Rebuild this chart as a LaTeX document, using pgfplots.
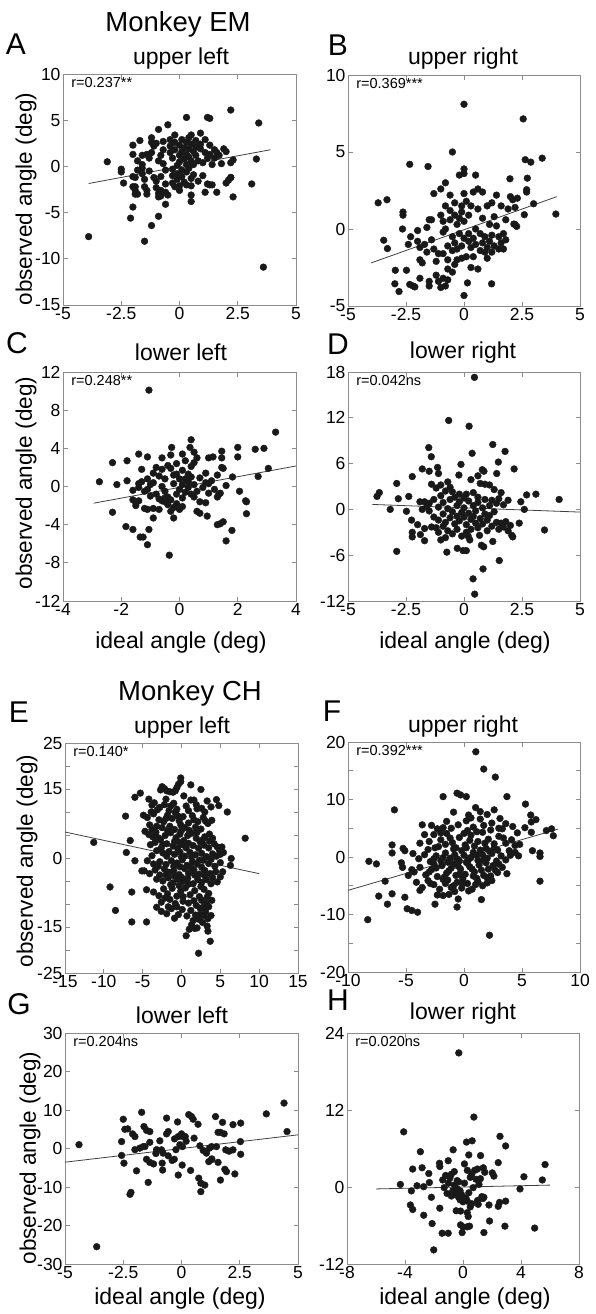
\documentclass[border=0pt]{standalone}
\usepackage{fontspec}
\setmainfont{Liberation Sans}
\usepackage{pgfplots}
\pgfplotsset{compat=1.18}
\pgfplotsset{
 panel/.style={scale only axis, anchor=north west, width=233pt, height=231pt,
  axis line style={draw=black!45, line width=0.8pt},
  tick style={draw=black!45, line width=0.8pt},
  major tick length=4.5pt, tick align=inside, tick pos=both,
  ticklabel style={font=\fontsize{17.5}{17.5}\selectfont, text=black},
  xticklabel style={yshift=1pt},
  yticklabel style={xshift=1pt}},
 dots/.style={only marks, mark=*, mark size=3.4pt, mark options={fill=black!90, draw=black!90}},
 fitl/.style={no marks, black!75, line width=0.8pt},
}
\newcommand\rlab[1]{\node[anchor=north west, inner sep=0pt, font=\fontsize{14.5}{14.5}\selectfont] at (rel axis cs:0.035,0.985) {#1};}
\begin{document}
\begin{tikzpicture}[x=1pt,y=1pt]
\useasboundingbox (0,0) rectangle (595,-1314);
% ---------- A ----------
\begin{axis}[panel, at={(63pt,-74pt)}, xmin=-5, xmax=5, ymin=-15, ymax=10,
 xtick={-5,-2.5,0,2.5,5}, xticklabels={-5,-2.5,0,2.5,5},
 ytick={-15,-10,-5,0,5,10}, yticklabels={-15,-10,-5,0,5,10}]
\addplot[dots] coordinates {
(-3.9,-7.6) (-3.1,0.5) (-2.5,-0.3) (-2.5,-0.6) (-2.4,-1.8)
(-2.0,2.3) (-2.0,1.3) (-2.0,-1.1) (-1.9,-2.2) (-1.9,-2.6) (-1.9,-3.0) (-2.0,-4.4) (-2.1,-5.6)
(-1.5,-8.1) (-1.2,-6.4) (-0.9,-5.4) (-0.8,-3.2) (-0.9,-2.9)
(-1.7,2.8) (-1.6,1.2) (-1.4,1.3) (-1.2,3.1) (-1.0,2.5) (-0.9,4.0) (-0.5,4.5) (-0.2,3.4) (0.3,5.3) (1.2,5.3) (1.3,5.2) (0.9,3.6)
(2.2,6.1) (3.4,4.7) (3.3,0.8) (3.1,-1.9) (2.3,-3.3) (2.2,-1.2) (2.1,-1.5) (2.0,-1.8) (1.6,-2.8) (1.3,-2.0) (1.1,-2.8)
(0.5,-3.8) (0.5,-3.1) (-0.6,-4.1) (2.2,0.4) (2.3,0.7) (1.9,1.9) (2.0,1.6) (1.7,1.2) (3.6,-10.9)
(-1.8,0.6) (-1.8,-0.4) (-1.9,-1.2) (-2.0,-2.2) (-1.8,-3.0) (-1.6,0.2) (-1.6,-0.2) (-1.6,-0.8) (-1.5,-1.4) (-1.5,-2.2)
(-1.4,-2.6) (-1.4,-3.0) (-1.3,-0.5) (-1.3,0.9) (-1.2,1.5) (-1.2,2.6) (-1.1,2.2) (-1.1,-1.2) (-1.0,-1.6) (-1.0,-2.3)
(-0.9,-3.3) (-0.8,-2.6) (-0.8,-1.1) (-0.9,0.6) (-0.8,1.2) (-0.7,2.7) (-0.7,1.8) (-0.7,0.3) (-0.6,-0.4) (-0.6,-1.9)
(-0.6,-2.8) (-0.5,-3.1) (-0.4,2.9) (-0.4,2.2) (-0.4,1.5) (-0.3,0.9) (-0.3,-0.3) (-0.3,-1.0) (-0.3,-1.8) (-0.2,-2.2)
(-0.2,2.6) (-0.2,1.8) (-0.1,0.1) (-0.1,-0.8) (-0.1,-1.4) (0.0,-2.1) (0.0,-2.6) (0.0,2.3) (0.0,1.2) (0.0,0.5)
(0.1,2.9) (0.1,1.6) (0.1,-0.4) (0.1,-1.1) (0.2,-1.7) (0.2,0.8) (0.2,2.0) (0.3,2.6) (0.3,1.3) (0.3,0.2)
(0.3,-0.6) (0.3,-2.0) (0.4,3.1) (0.4,1.9) (0.4,1.0) (0.4,-0.2) (0.5,-1.3) (0.5,-2.1) (0.5,0.6) (0.5,2.4) (0.5,3.4)
(0.6,1.6) (0.6,0.2) (0.6,-0.9) (0.7,2.8) (0.7,2.1) (0.7,1.2) (0.8,-1.6) (0.8,0.6) (0.9,1.9) (0.9,2.4)
(1.0,-1.0) (1.0,0.4) (1.1,1.5) (1.1,2.9) (1.2,-1.9) (1.2,0.9) (1.3,2.3) (1.3,1.3) (1.4,0.2) (1.4,-2.0)
(1.5,1.8) (1.5,0.9) (1.6,1.5) (1.8,0.3) (2.2,-1.2)
};
\addplot[fitl] coordinates {(-3.9,-1.85) (3.9,1.8)};
\rlab{r=0.237**}
\end{axis}
% ---------- B ----------
\begin{axis}[panel, at={(348pt,-75pt)}, width=232pt, xmin=-5, xmax=5, ymin=-5, ymax=10,
 xtick={-5,-2.5,0,2.5,5}, xticklabels={-5,-2.5,0,2.5,5},
 ytick={-5,0,5,10}, yticklabels={-5,0,5,10}]
\addplot[dots] coordinates {
(0.0,8.1) (2.55,7.15) (-0.5,5.0) (-2.34,4.2) (-1.55,4.06) (2.64,4.5) (2.88,4.34) (3.37,4.6)
(-3.7,1.7) (-3.32,1.9) (3.96,0.97) (-3.46,-0.73) (-3.3,-1.27) (-2.63,1.1) (-2.63,0.9) (-2.65,0.0)
(-2.96,-2.68) (-2.48,-2.68) (-2.98,-3.56) (-2.8,-4.06) (-2.34,-3.6) (-2.12,-3.76) (0.0,-4.32) (0.15,-3.5) (1.19,-3.56)
(3.0,1.64) (1.98,3.26) (2.73,3.3) (2.7,2.55) (2.7,2.4) (2.6,0.93) (2.15,0.32) (2.27,0.17)
(-2.0,-0.1) (-2.0,-0.8) (-1.9,-1.2) (-1.9,-2.0) (-1.8,-2.2) (-1.9,-3.2) (-1.7,-1.0) (-1.6,-1.5) (-1.5,0.6) (-1.4,0.6)
(-1.4,-0.7) (-1.3,-1.3) (-1.3,2.3) (-1.2,-2.1) (-1.2,-3.0) (-1.1,-3.4) (-1.0,-3.8) (-1.1,-1.6) (-1.0,0.9) (-1.0,2.6)
(-0.9,-0.2) (-0.9,-1.6) (-0.9,-3.2) (-0.8,3.0) (-0.8,1.5) (-0.8,0.0) (-0.7,-1.1) (-0.7,-2.0) (-0.7,-2.6) (-0.7,-3.3)
(-0.6,1.2) (-0.6,2.2) (-0.6,0.6) (-0.5,-0.5) (-0.5,-1.4) (-0.5,-2.8) (-0.4,0.9) (-0.4,1.7) (-0.4,-0.9) (-0.3,0.3)
(-0.3,-1.3) (-0.3,-2.0) (-0.2,0.7) (-0.2,-0.3) (-0.2,3.5) (-0.1,1.5) (-0.1,-1.1) (-0.1,-1.9) (0.0,3.9) (0.0,3.6)
(0.0,2.3) (0.0,0.5) (0.0,-0.6) (0.1,1.8) (0.1,-1.8) (0.2,0.9) (0.2,-0.3) (0.2,-0.8) (0.3,1.5) (0.3,-1.2)
(0.4,2.4) (0.4,-0.6) (0.4,-1.8) (0.5,3.5) (0.5,0.0) (0.5,-1.0) (0.6,2.6) (0.6,1.3) (0.6,-2.6) (0.7,-0.3)
(0.7,-1.4) (0.8,0.7) (0.8,-0.9) (0.9,-0.5) (0.9,-1.5) (1.0,1.5) (1.0,-1.2) (1.0,-1.9) (1.1,0.3) (1.1,-0.8)
(1.2,1.7) (1.2,-0.4) (1.2,-1.5) (1.3,0.8) (1.3,-1.1) (1.4,2.2) (1.4,0.2) (1.5,-0.5) (1.5,-1.3) (1.6,1.5)
(1.6,-0.9) (1.7,-0.3) (1.7,-1.3) (1.8,0.6) (1.9,1.3) (2.0,2.1) (2.1,1.9) (2.2,1.4) (2.3,2.0) (2.2,0.3)
(-2.4,-1.0) (-2.3,-0.5) (-2.2,-3.7) (-1.5,-3.4) (-1.5,-3.7) (-0.8,-3.7) (-0.4,-2.3) (0.3,-2.5) (-0.1,1.1) (-1.6,0.1)
(-0.9,0.5) (1.8,-0.7) (0.8,2.4)
};
\addplot[fitl] coordinates {(-4,-2.2) (4,2.1)};
\rlab{r=0.369***}
\end{axis}
% ---------- C ----------
\begin{axis}[panel, at={(63pt,-372pt)}, height=229pt, xmin=-4, xmax=4, ymin=-12, ymax=12,
 xtick={-4,-2,0,2,4}, xticklabels={-4,-2,0,2,4},
 ytick={-12,-8,-4,0,4,8,12}, yticklabels={-12,-8,-4,0,4,8,12}]
\addplot[dots] coordinates {
(-1.05,10.1) (3.3,5.7) (-2.75,0.5) (-0.35,-7.2) (1.6,-5.7) (-2.3,2.5) (-2.15,0.2) (-2.3,-2.7) (-1.8,2.7) (-1.8,0.6)
(-1.84,-4.2) (-1.6,-4.5) (-1.4,3.4) (-1.1,3.1) (-1.35,-5.3) (-1.25,-5.3) (-1.1,-6.1) (-1.05,-4.5) (-0.9,-3.3) (-0.6,3.0)
(-0.27,4.1) (0.1,3.4) (0.4,4.9) (0.36,4.1) (0.5,2.5) (1.0,3.0) (1.15,3.1) (1.45,3.7) (1.45,3.0) (2.0,4.1)
(2.0,3.1) (2.6,3.9) (2.9,4.0) (3.05,1.9) (2.7,1.05) (2.06,-0.5) (2.27,-1.5) (2.3,-1.6) (2.3,-2.85) (1.8,-4.6)
(1.4,-3.9) (1.5,-3.7) (0.95,-3.1) (0.7,-2.8) (1.35,-0.8) (1.3,-1.1) (1.45,2.0) (1.5,1.9) (1.82,1.0)
(-1.6,-0.4) (-1.6,-1.4) (-1.5,-2.0) (-1.5,-1.7) (-1.4,0.3) (-1.4,-0.1) (-1.3,1.8) (-1.3,0.5) (-1.2,-0.5) (-1.2,-2.3)
(-1.1,0.8) (-1.1,-2.4) (-1.0,0.2) (-1.0,-1.0) (-0.9,-2.3) (-0.9,0.4) (-0.8,2.0) (-0.8,-0.8) (-0.7,1.1) (-0.7,-1.3)
(-0.7,-2.4) (-0.6,1.8) (-0.6,0.0) (-0.6,-1.5) (-0.5,-0.5) (-0.5,-1.2) (-0.5,-1.6) (-0.4,-1.1) (-0.4,-1.9) (-0.4,2.2)
(-0.3,-1.4) (-0.3,-2.6) (-0.3,1.9) (-0.3,3.3) (-0.2,0.3) (-0.2,-3.3) (-0.2,-2.2) (-0.1,2.4) (-0.1,1.3) (-0.1,-0.8)
(-0.1,-1.8) (0.0,0.8) (0.0,-0.3) (0.0,-2.4) (0.1,1.7) (0.1,0.2) (0.1,-1.2) (0.1,-2.1) (0.2,0.8) (0.2,-0.6)
(0.2,2.7) (0.3,0.5) (0.3,-0.1) (0.3,1.3) (0.4,1.0) (0.4,-0.8) (0.4,2.1) (0.5,0.2) (0.5,-1.1) (0.5,3.6)
(0.6,3.0) (0.6,-0.5) (0.6,-2.6) (0.7,0.9) (0.8,-0.1) (0.9,1.4) (0.9,0.4) (0.9,-1.7) (1.0,0.3) (1.0,-0.7)
(1.1,0.6) (1.2,-0.3) (1.3,1.2) (1.4,-0.7) (1.3,-4.0) (-0.2,1.2) (-0.5,0.8) (-0.9,1.4) (-1.1,-0.3) (0.7,-1.6)
(-1.4,-1.5) (1.6,0.1)
};
\addplot[fitl] coordinates {(-2.95,-1.75) (4,2.15)};
\rlab{r=0.248**}
\end{axis}
% ---------- D ----------
\begin{axis}[panel, at={(348pt,-372pt)}, width=232pt, height=229pt, xmin=-5, xmax=5, ymin=-12, ymax=18,
 xtick={-5,-2.5,0,2.5,5}, xticklabels={-5,-2.5,0,2.5,5},
 ytick={-12,-6,0,6,12,18}, yticklabels={-12,-6,0,6,12,18}]
\addplot[dots] coordinates {
(0.45,17.3) (-0.66,11.65) (0.22,10.9) (0.35,7.35) (1.24,8.5) (1.77,7.6) (-1.52,8.1) (-1.41,6.9) (-0.13,5.9) (-0.22,4.5)
(0.6,4.4) (0.79,5.2) (0.86,5.0) (1.48,6.2) (2.16,5.3) (1.41,4.7) (-1.8,5.3) (-1.5,5.0) (-1.14,5.5) (-1.1,4.7)
(-2.23,4.3) (-2.9,3.4) (-3.75,1.7) (-3.65,2.2) (-3.18,0.0) (-2.83,1.4) (-2.48,-0.25) (-2.38,1.7) (-2.26,-1.4) (-2.23,-3.0)
(-2.23,-3.6) (-1.88,-3.3) (-1.7,-4.1) (-2.9,-5.5) (0.39,-9.1) (0.46,-11.1) (0.82,-7.8) (1.52,-6.7) (3.47,-2.7) (4.1,1.3)
(3.1,2.0) (2.7,1.9) (2.45,1.0) (2.6,0.0) (2.38,-1.8) (2.0,-2.1) (2.06,-3.4) (2.1,-3.6) (1.24,-4.2) (0.75,-4.7)
(0.85,-4.9) (0.67,-3.4) (0.25,-4.0) (0.18,-3.5) (-0.29,-5.1) (-0.04,-5.4) (0.1,-5.4) (-0.74,-5.6) (-1.0,-4.0)
(-1.6,0.4) (-1.5,-0.2) (-1.5,0.8) (-1.4,-2.3) (-1.4,3.3) (-1.3,1.3) (-1.3,-1.0) (-1.2,-2.4) (-1.2,2.8) (-1.1,0.3)
(-1.1,-1.4) (-1.1,-3.0) (-1.0,1.8) (-1.0,3.2) (-0.9,-0.6) (-0.9,-2.2) (-0.9,0.9) (-0.8,2.4) (-0.8,-1.7) (-0.8,-3.7)
(-0.7,3.6) (-0.7,0.1) (-0.7,-2.8) (-0.6,1.3) (-0.6,-1.1) (-0.6,2.9) (-0.5,-0.3) (-0.5,-3.2) (-0.4,1.6) (-0.4,-1.9)
(-0.3,0.5) (-0.3,-0.9) (-0.3,-2.6) (-0.2,1.0) (-0.2,2.0) (-0.2,-1.5) (-0.1,-0.4) (-0.1,-3.5) (0.0,1.5) (0.0,-1.0)
(0.0,0.2) (0.1,2.0) (0.1,-2.0) (0.2,-0.5) (0.2,1.1) (0.3,-1.3) (0.3,3.9) (0.3,-2.6) (0.4,0.5) (0.4,-0.9)
(0.4,2.2) (0.5,-1.8) (0.5,-0.2) (0.6,0.9) (0.6,-2.4) (0.7,-1.2) (0.7,3.4) (0.8,0.2) (0.8,-1.9) (0.9,-0.6)
(0.9,1.3) (0.9,3.3) (1.0,-2.8) (1.0,-1.4) (1.1,0.5) (1.1,-0.8) (1.1,3.2) (1.2,1.2) (1.2,-2.2) (1.3,-0.3)
(1.3,2.6) (1.4,-1.7) (1.4,0.8) (1.5,-2.6) (1.5,1.4) (1.6,-1.8) (1.6,2.2) (1.7,0.6) (1.8,-1.6) (1.9,1.2)
(1.9,-2.8) (-1.9,1.0) (-1.8,0.0) (-1.7,-2.5) (-2.0,-2.0) (-1.7,1.0) (1.7,-2.3) (0.6,1.6) (-0.5,2.3) (0.1,-3.0)
};
\addplot[fitl] coordinates {(-3.95,0.65) (5,-0.35)};
\rlab{r=0.042ns}
\end{axis}
% ---------- E ----------
\begin{axis}[panel, at={(65pt,-743pt)}, height=230pt, xmin=-15, xmax=15, ymin=-25, ymax=25,
 xtick={-15,-10,-5,0,5,10,15}, xticklabels={-15,-10,-5,0,5,10,15},
 ytick={-25,-20,-15,-10,-5,0,5,10,15,20,25}, yticklabels={-25,,-15,,,0,,,15,,25}]
\addplot[dots] coordinates {
(-11.3,3.4) (-9.2,-6.3) (-8.5,-11.4) (-7.2,9.1) (-7.1,1.2) (-6.6,3.8) (-6.4,-7.4) (-6.4,-13.9) (-6.0,13.2) (-6.0,-0.6)
(-5.3,14.1) (-4.5,-13.9) (-4.5,-6.9) (-5.1,-2.8) (8.2,4.3) (5.9,10.0) (6.4,-0.1) (2.2,-20.7) (3.7,-18.1) (0.6,-16.9)
(-0.1,17.4) (1.2,15.9) (2.5,14.9) (4.5,12.7) (4.8,11.4)
(-4.2,12.8) (-3.8,11.5) (-2.8,11.0) (-2.2,11.6) (-1.6,10.3) (-1.0,11.9) (-0.6,10.6) (0.6,11.3) (1.2,12.6) (1.6,12.6)
(2.6,10.8) (3.3,12.4) (3.8,11.1) (2.0,10.7) (-3.1,10.5)
(-4.9,9.3) (-4.4,8.8) (-3.6,9.6) (-2.9,8.3) (-2.3,7.9) (-1.8,9.3) (-1.2,8.6) (-0.8,9.9) (-0.3,8.1) (0.2,9.0)
(0.9,7.6) (1.4,9.2) (2.1,7.9) (2.8,8.8) (3.4,7.5) (3.9,8.2) (-2.5,6.6) (-1.5,6.9) (-0.9,6.2) (0.4,6.6)
(1.0,6.0) (1.8,6.7) (2.5,6.3) (-4.1,7.2) (-3.2,6.9) (-0.1,7.2)
(-4.7,5.8) (-4.2,5.1) (-3.7,4.6) (-3.3,5.6) (-2.7,4.0) (-2.1,4.9) (-1.4,5.5) (-0.7,4.4) (-0.2,5.2) (0.3,3.8)
(0.8,4.9) (1.3,5.4) (1.9,4.3) (2.4,3.5) (3.0,4.6) (3.6,3.7) (4.2,3.1) (4.6,2.4) (-4.0,2.9) (-3.4,3.4)
(-2.6,2.2) (-1.9,3.1) (-1.1,2.6) (-0.5,2.1) (0.1,2.9) (0.6,2.2) (1.5,2.7) (2.2,2.1) (2.9,2.8) (3.5,2.2)
(4.9,1.6) (5.2,2.4) (-0.3,3.4) (-3.0,4.4)
(-3.2,1.6) (-2.4,1.1) (-1.6,1.4) (-0.9,0.8) (-0.2,1.3) (0.4,0.4) (1.1,1.2) (1.8,0.7) (2.6,1.0) (3.2,0.3)
(4.0,0.9) (4.5,0.4) (5.0,0.8) (5.4,1.2) (-4.4,-0.6) (-3.6,-1.3) (-2.8,-0.8) (-2.0,-1.4) (-1.3,-0.6) (-0.6,-1.1)
(0.1,-0.4) (0.7,-1.6) (1.4,-0.8) (2.0,-1.3) (2.8,-0.5) (3.5,-1.2) (4.3,-1.8) (5.0,-1.0) (6.3,-1.6) (-1.0,-1.8)
(-4.8,-2.8) (-4.1,-3.4) (-3.4,-2.6) (-2.8,-3.7) (-2.2,-2.4) (-1.6,-3.1) (-1.0,-2.7) (-0.3,-3.6) (0.4,-2.3) (0.9,-3.3)
(1.6,-2.6) (2.3,-3.5) (3.0,-2.7) (3.7,-3.4) (4.4,-3.0) (5.0,-4.1) (5.3,-3.0) (-3.2,-4.6) (-2.4,-5.0) (-1.7,-4.3)
(-1.1,-5.4) (-0.5,-4.6) (0.2,-5.1) (0.8,-4.4) (1.5,-5.6) (2.1,-4.7) (2.6,-5.3) (3.2,-4.7) (3.8,-5.6) (4.6,-5.2)
(-0.9,-3.9)
(-3.6,-7.4) (-2.9,-8.2) (-2.3,-6.7) (-1.8,-7.8) (-1.2,-6.6) (-0.6,-8.3) (-0.1,-7.2) (0.5,-6.5) (1.1,-8.0) (1.7,-7.1)
(2.3,-8.4) (2.9,-6.8) (3.5,-7.7) (3.9,-9.2) (-2.6,-9.6) (-1.5,-9.0) (-0.8,-9.9) (0.2,-9.4) (0.9,-9.8) (1.6,-9.3)
(3.2,-9.9) (2.6,-9.2)
(-3.2,-10.7) (-2.6,-11.6) (-1.9,-12.1) (-1.3,-11.0) (-0.4,-12.3) (0.1,-11.2) (-0.6,-10.6) (0.7,-12.6) (1.2,-11.4) (1.8,-12.4)
(2.4,-10.9) (3.1,-11.7) (3.5,-10.6) (-0.9,-13.1) (1.5,-13.6) (2.2,-13.3) (2.8,-12.5) (3.4,-13.2)
(1.3,-14.5) (2.0,-15.2) (3.3,-14.8) (3.4,-15.9) (1.0,-15.5)
(-2.7,14.8) (-2.5,15.5) (-2.2,15.1) (-1.9,14.6) (-1.5,14.4) (-1.1,14.3) (-0.8,14.6) (-0.6,15.3) (-0.4,16.0) (-0.1,16.6)
(-3.5,12.0) (-2.0,12.8) (0.3,13.5) (1.9,11.6) (-3.9,10.0) (-1.4,11.3) (0.9,10.3) (3.0,10.0) (-2.0,8.6) (-0.5,9.2)
(1.6,8.3) (3.1,8.0) (-3.8,6.2) (-1.8,6.0) (0.0,6.0) (2.0,5.6) (3.6,5.2) (-2.4,3.0) (-0.9,3.6) (0.9,3.2)
(2.7,3.9) (4.0,4.3) (-3.8,0.5) (-1.9,0.4) (0.0,0.2) (1.3,0.3) (2.3,-0.5) (3.8,-0.3) (-3.0,-1.8) (-0.2,-1.9)
(1.2,-2.0) (2.6,-2.0) (-2.0,-3.7) (0.0,-4.2) (1.7,-3.7) (3.0,-3.9) (-1.4,-5.8) (0.9,-5.7) (2.5,-6.2) (4.0,-4.3)
(-0.3,-6.0) (1.9,-10.3) (2.9,-10.5) (-2.1,-8.7) (0.2,-8.4) (3.3,-8.5) (-1.7,-10.6) (2.4,-12.2) (3.8,-12.5) (2.7,-14.0) (1.7,-15.3)
};
\addplot[fitl] coordinates {(-15,5.65) (10,-3.4)};
\rlab{r=0.140*}
\end{axis}
% ---------- F ----------
\begin{axis}[panel, at={(348pt,-742pt)}, width=232pt, height=230pt, xmin=-10, xmax=10, ymin=-20, ymax=20,
 xtick={-10,-5,0,5,10}, xticklabels={-10,-5,0,5,10},
 ytick={-20,-15,-10,-5,0,5,10,15,20}, yticklabels={-20,,-10,,0,,10,,20}]
\addplot[dots] coordinates {
(1.02,18.3) (1.7,15.3) (2.7,13.9) (-1.8,10.5) (-0.6,11.1) (-0.3,10.8) (0.2,10.5) (3.7,10.5) (5.3,9.2) (-6.0,8.2)
(-8.2,-0.75) (-7.55,-1.2) (-8.3,-10.9) (-7.35,-6.8) (-6.2,-6.4) (-6.6,-8.2) (-6.8,-4.2) (-6.2,2.1) (-6.2,0.7) (-5.25,1.5)
(-5.1,1.1) (-5.4,-1.0) (-5.3,-1.8) (2.2,-13.6) (1.5,-7.4) (-0.5,-7.3) (-0.6,-8.7) (-2.5,-8.2) (-1.8,-6.7) (6.55,-4.2)
(7.7,3.7) (7.55,4.9) (7.1,4.6) (5.8,6.1) (6.2,6.5) (5.75,7.3) (5.25,5.1) (5.8,4.3) (5.9,1.1) (6.55,0.7)
(6.55,0.1) (4.7,0.2) (4.4,0.8) (-5.1,-7.0) (-4.9,-9.0) (-4.5,-9.3) (-4.0,-9.6)
(-0.9,7.8) (0.4,7.3) (1.0,8.6) (1.4,6.6) (2.0,7.4) (2.6,8.2) (3.1,6.7) (-1.1,5.0) (-0.5,5.6) (0.2,6.3)
(0.8,5.2) (1.7,5.5) (2.4,5.9) (3.6,5.8) (4.2,5.3) (-3.6,5.6) (-3.4,3.9) (-2.8,5.5) (-2.3,4.9) (-1.8,5.1)
(4.6,4.2) (3.3,4.9)
(-3.0,2.7) (-2.6,3.9) (-2.0,3.0) (-1.5,4.1) (-1.0,2.5) (-0.4,3.4) (0.1,2.1) (0.6,3.8) (1.2,2.7) (1.6,4.3)
(2.1,3.1) (2.6,2.3) (3.0,3.6) (3.6,2.4) (4.1,3.0) (4.8,2.2) (0.9,1.9) (-0.7,1.6) (-2.5,1.6) (1.9,1.5)
(2.9,1.2) (3.9,1.1) (-1.6,2.2) (0.3,4.6)
(-4.4,0.6) (-3.9,-0.3) (-3.4,0.4) (-2.9,-0.8) (-2.4,0.2) (-2.0,-0.6) (-1.6,0.7) (-1.2,-0.2) (-0.8,0.4) (-0.4,-0.7)
(0.0,0.3) (0.4,-0.4) (0.8,0.8) (1.2,-0.6) (1.6,0.4) (2.0,-0.2) (2.4,0.6) (2.8,-0.7) (3.2,0.2) (3.6,-0.5)
(4.0,0.3) (-1.4,-0.9) (-0.2,1.1) (1.4,1.2) (-3.1,1.3) (0.6,-0.1) (2.2,1.0) (-2.6,-0.3)
(-4.3,-2.6) (-3.8,-1.8) (-3.3,-3.1) (-2.8,-2.2) (-2.3,-3.4) (-1.9,-1.5) (-1.5,-2.8) (-1.1,-1.9) (-0.7,-3.2) (-0.3,-2.1)
(0.1,-3.0) (0.5,-1.7) (0.9,-2.6) (1.3,-1.4) (1.7,-3.2) (2.1,-2.1) (2.5,-1.5) (2.9,-2.7) (3.3,-1.8) (3.7,-2.9)
(-0.9,-1.2) (0.3,-1.1) (1.1,-3.7) (-1.8,-3.9) (-2.6,-1.2) (1.9,-1.0) (-0.1,-3.8) (2.3,-3.3)
(-4.1,-4.4) (-3.6,-5.3) (-3.1,-4.1) (-2.6,-4.8) (-2.1,-5.6) (-1.6,-4.6) (-1.1,-5.3) (-0.6,-4.4) (-0.2,-5.4) (0.3,-4.6)
(0.7,-5.6) (1.2,-4.3) (1.6,-5.0) (2.0,-4.5) (2.4,-4.1) (-3.8,-5.8) (-0.8,-6.0) (0.4,-5.9) (-2.3,-6.6) (-1.3,-6.5)
(-4.8,-3.2) (-4.5,-2.2)
(-1.2,3.3) (0.5,2.9) (1.8,2.4) (-2.2,1.8) (-0.9,1.4) (0.2,1.6) (1.1,0.3) (2.6,1.6) (-1.8,-0.1) (-0.6,-0.3)
(0.2,-0.9) (1.7,-0.6) (3.0,-1.2) (-2.4,-1.9) (-1.3,-2.4) (-0.5,-1.6) (0.7,-2.1) (1.5,-2.3) (2.7,-2.3) (-3.0,-2.6)
(-1.7,-3.5) (-0.4,-3.0) (0.8,-3.3) (2.0,-3.6) (-2.9,-4.6) (-1.4,-4.0) (-0.1,-4.6) (1.0,-4.8) (-0.9,-5.0) (0.6,6.8)
(1.4,7.9) (-1.5,6.2) (3.0,5.0) (4.4,2.0) (-3.8,2.4) (-2.0,4.2) (0.0,4.1) (1.1,4.4) (2.3,4.7) (3.4,3.3)
};
\addplot[fitl] coordinates {(-10,-5.8) (8.1,4.85)};
\rlab{r=0.392***}
\end{axis}
% ---------- G ----------
\begin{axis}[panel, at={(65pt,-1033pt)}, xmin=-5, xmax=5, ymin=-30, ymax=30,
 xtick={-5,-2.5,0,2.5,5}, xticklabels={-5,-2.5,0,2.5,5},
 ytick={-30,-20,-10,0,10,20,30}, yticklabels={-30,-20,-10,0,10,20,30}]
\addplot[dots] coordinates {
(-4.4,1.0) (-3.64,-25.5) (-2.5,7.6) (-2.57,1.8) (-2.57,-1.8) (-2.47,-3.8) (-2.43,5.0) (-2.31,5.1) (-2.21,-11.9) (-2.17,-11.4)
(-2.1,3.8) (-2.0,3.1) (-1.93,-5.8) (-1.71,9.4) (-1.61,5.7) (-1.79,0.1) (-1.64,0.5) (-1.57,0.5) (-1.5,4.7) (-1.43,-8.8)
(-1.5,-2.8) (-1.36,-3.6) (-1.36,1.6) (-1.36,4.4) (-1.07,-0.3) (-0.86,-0.35) (-0.79,-1.2) (-0.93,2.0) (-0.83,-3.8) (-0.81,-5.6)
(-0.64,7.9) (-0.64,3.8) (-0.57,4.4) (-0.57,-1.9) (-0.17,6.9) (-0.14,3.1) (-0.04,3.3) (0.07,3.1) (0.16,3.1) (-0.14,-6.9)
(-0.07,1.0) (0.04,0.5) (0.03,-4.3) (-0.24,-0.3) (-0.31,-2.8) (0.31,8.8) (0.43,8.3) (0.5,7.6) (0.39,-5.7) (0.54,2.7)
(0.71,6.3) (0.79,0.7) (0.93,-0.5) (1.07,-1.2) (0.74,-7.7) (0.83,-9.0) (0.83,-11.2) (1.0,-9.5) (1.17,-3.4) (1.29,-2.9)
(1.29,0.5) (1.5,0.5) (1.46,8.3) (1.57,4.2) (1.67,4.2) (1.57,-3.6) (1.67,-8.2) (1.76,6.8) (1.83,3.8) (1.9,-0.35)
(2.04,-0.7) (1.86,-5.4) (1.93,-6.0) (2.21,6.2) (2.29,-6.6) (2.21,-0.35) (2.54,6.6) (2.53,1.8) (2.54,-1.5) (3.64,9.0)
(4.4,11.8) (4.53,4.4) (-2.0,-0.3) (-0.4,-3.1) (0.2,1.9) (1.2,0.1) (-1.1,-1.3) (1.3,-2.7) (-0.3,2.5) (0.0,3.8) (-1.2,-4.0)
};
\addplot[fitl] coordinates {(-5,-3.55) (5,3.55)};
\rlab{r=0.204ns}
\end{axis}
% ---------- H ----------
\begin{axis}[panel, at={(347pt,-1033pt)}, width=232pt, xmin=-8, xmax=8, ymin=-12, ymax=24,
 xtick={-8,-4,0,4,8}, xticklabels={-8,-4,0,4,8},
 ytick={-12,0,12,24}, yticklabels={-12,0,12,24}]
\addplot[dots] coordinates {
(-0.29,20.9) (0.75,10.9) (-4.09,8.6) (-2.94,5.5) (-0.68,5.8) (0.24,7.0) (0.63,7.2) (2.55,7.9) (2.94,6.4) (0.4,5.0)
(1.21,4.9) (5.66,3.5) (2.43,3.8) (-1.62,3.7) (-1.02,4.1) (-1.6,3.2) (-3.47,2.8) (-2.82,3.0) (-2.36,2.1) (4.2,1.6)
(5.47,1.1) (3.93,-0.3) (-4.32,0.4) (-3.17,0.2) (-2.71,0.05) (-2.32,0.7) (-3.56,-0.6) (-2.18,-1.6) (-3.63,-2.8) (-3.47,-3.5)
(-2.71,-4.4) (-2.13,-5.7) (-1.6,-3.3) (-2.02,-9.8) (-1.44,-7.2) (-1.02,-7.2) (-0.17,-5.9) (-0.01,-6.2) (0.29,-6.2) (0.45,-6.1)
(-0.06,-7.1) (-0.47,-3.7) (-0.17,-3.75) (0.29,-4.0) (0.36,-4.6) (1.44,-7.1) (1.83,-5.3) (1.79,-2.8) (2.43,-3.0) (2.52,-2.4)
(2.94,-2.2) (2.89,-6.1) (4.94,-6.4) (1.05,-2.7) (1.37,-1.8) (1.44,-1.6) (2.02,2.2) (2.13,1.7)
(-1.3,-0.1) (-1.2,1.8) (-1.1,-1.0) (-1.0,0.6) (-0.9,1.4) (-0.8,-1.4) (-0.7,-0.6) (-0.6,2.4) (-0.6,0.3) (-0.5,-1.2)
(-0.4,1.0) (-0.4,-0.3) (-0.3,0.8) (-0.3,-1.6) (-0.2,-0.6) (-0.2,-2.0) (-0.1,-1.2) (0.0,-2.3) (0.1,0.6) (0.1,3.6)
(0.2,-1.7) (0.3,-2.2) (0.3,2.6) (0.4,-0.9) (0.5,1.5) (0.6,2.0) (0.6,-2.6) (0.7,-0.1) (0.8,2.6) (0.9,1.2)
(1.0,2.8) (1.0,-2.1) (1.1,0.4) (1.2,1.3) (1.3,-1.5) (1.4,3.0) (1.5,2.3) (-0.8,2.0) (-1.4,1.1) (0.5,-3.1)
};
\addplot[fitl] coordinates {(-6,-0.3) (6,0.3)};
\rlab{r=0.020ns}
\end{axis}
% ---------- texts ----------
\node[font=\fontsize{27.5}{27.5}\selectfont] at (178,-24) {Monkey EM};
\node[font=\fontsize{27.5}{27.5}\selectfont] at (190,-693) {Monkey CH};
\begin{scope}[every node/.style={font=\fontsize{30}{30}\selectfont}]
\node at (16,-44) {A}; \node at (338,-45) {B};
\node at (17,-343) {C}; \node at (338,-344) {D};
\node at (19,-712) {E}; \node at (332,-711) {F};
\node at (19,-1004) {G}; \node at (338,-1000) {H};
\end{scope}
\begin{scope}[every node/.style={font=\fontsize{23}{23}\selectfont}]
\node at (181,-59) {upper left}; \node at (463,-59) {upper right};
\node at (181,-352) {lower left}; \node at (463,-353) {lower right};
\node at (182,-728) {upper left}; \node at (463,-727) {upper right};
\node at (182,-1015) {lower left}; \node at (463,-1014) {lower right};
\node at (181,-643) {ideal angle (deg)}; \node at (465,-643) {ideal angle (deg)};
\node at (180,-1299) {ideal angle (deg)}; \node at (465,-1299) {ideal angle (deg)};
\end{scope}
\begin{scope}[every node/.style={font=\fontsize{22.5}{22.5}\selectfont, rotate=90}]
\node at (26,-199) {observed angle (deg)};
\node at (26,-483) {observed angle (deg)};
\node at (27,-861) {observed angle (deg)};
\node at (30,-1158) {observed angle (deg)};
\end{scope}
\end{tikzpicture}
\end{document}
